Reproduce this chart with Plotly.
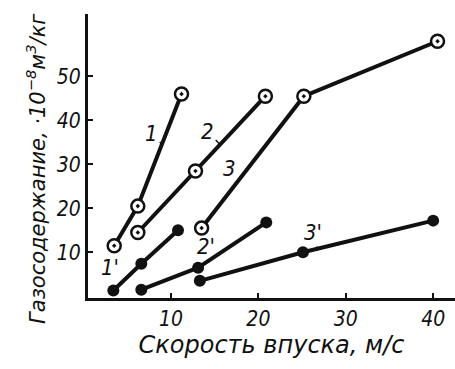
import plotly.graph_objects as go

# Open-circle curves (1, 2, 3)
x1 = [3.5, 6.2, 11.2]
y1 = [11.5, 20.5, 46.0]
x2 = [6.2, 12.8, 20.8]
y2 = [14.5, 28.5, 45.5]
x3 = [13.5, 25.2, 40.5]
y3 = [15.5, 45.5, 58.0]
# Filled-circle curves (1', 2', 3')
x1p = [3.4, 6.6, 10.8]
y1p = [1.3, 7.4, 15.0]
x2p = [6.6, 13.1, 20.9]
y2p = [1.5, 6.5, 16.8]
x3p = [13.3, 25.1, 40.0]
y3p = [3.5, 10.0, 17.2]

x_ticks = [10, 20, 30, 40]
y_ticks = [10, 20, 30, 40, 50]

labels = ["1", "2", "3", "1'", "2'", "3'"]
label_pos = [(7.8, 37.0), (14.2, 37.5), (16.7, 29.0), (3.0, 6.5), (14.0, 11.3), (26.2, 14.5)]
label_target = [(8.9, 34.7), (15.6, 34.5), (17.6, 26.6), (4.3, 3.0), (14.8, 8.6), (26.8, 10.4)]

CFONT = "DejaVu Sans Condensed, Liberation Sans Narrow, DejaVu Sans, sans-serif"
WFONT = "DejaVu Sans, Verdana, sans-serif"
INK = "#111111"

fig = go.Figure()
for xs, ys in [(x1, y1), (x2, y2), (x3, y3)]:
    fig.add_trace(go.Scatter(x=xs, y=ys, mode="lines+markers",
                             line=dict(color=INK, width=4),
                             marker=dict(symbol="circle-dot", size=13, color="white",
                                         line=dict(color=INK, width=2.5)),
                             showlegend=False, hoverinfo="skip"))
for xs, ys in [(x1p, y1p), (x2p, y2p), (x3p, y3p)]:
    fig.add_trace(go.Scatter(x=xs, y=ys, mode="lines+markers",
                             line=dict(color=INK, width=4),
                             marker=dict(symbol="circle", size=12, color=INK),
                             showlegend=False, hoverinfo="skip"))

for lab, (lx, ly), (tx, ty) in zip(labels, label_pos, label_target):
    fig.add_annotation(x=tx, y=ty, ax=lx, ay=ly, axref="x", ayref="y",
                       text=lab, showarrow=True, arrowhead=0, arrowwidth=1.5,
                       arrowcolor=INK, standoff=0, startstandoff=0,
                       font=dict(family=CFONT, size=22, color=INK, style="italic"))

fig.add_annotation(xref="paper", yref="paper", x=-0.185, y=0.455,
                   text="Газосодержание, ·10<sup>−8</sup>м<sup>3</sup>/кг",
                   textangle=-90, showarrow=False,
                   font=dict(family=WFONT, size=21, color=INK, style="italic"))

fig.update_layout(
    width=455, height=369,
    margin=dict(l=88, r=0, t=14, b=71),
    paper_bgcolor="white", plot_bgcolor="white",
    font=dict(family=CFONT, color=INK, style="italic"),
    xaxis=dict(range=[0.5, 42.5], tickvals=x_ticks, ticktext=[str(v) for v in x_ticks],
               automargin=False,
               showgrid=False, zeroline=False, showline=True, linecolor=INK, linewidth=3,
               ticks="inside", ticklen=5, tickwidth=2, tickcolor=INK,
               tickfont=dict(family=CFONT, size=21, color=INK, style="italic"),
               title=dict(text="Скорость впуска, м/с", standoff=2,
                          font=dict(family=WFONT, size=24, color=INK, style="italic"))),
    yaxis=dict(range=[-0.4, 64.2], tickvals=y_ticks, ticktext=[str(v) for v in y_ticks],
               automargin=False,
               showgrid=False, zeroline=False, showline=True, linecolor=INK, linewidth=3,
               ticks="inside", ticklen=5, tickwidth=2, tickcolor=INK,
               tickfont=dict(family=CFONT, size=21, color=INK, style="italic")),
)

fig.write_html("out.html", config={"displayModeBar": False},
               post_script="document.body.style.margin='0';")
